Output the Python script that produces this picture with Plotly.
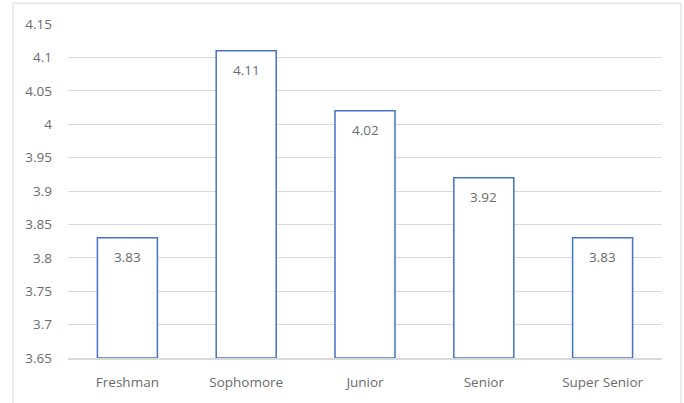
import plotly.graph_objects as go

categories = ["Freshman", "Sophomore", "Junior", "Senior", "Super Senior"]
values = [3.83, 4.11, 4.02, 3.92, 3.83]
tick_vals = [3.65, 3.7, 3.75, 3.8, 3.85, 3.9, 3.95, 4.0, 4.05, 4.1, 4.15]
tick_text = ["3.65", "3.7", "3.75", "3.8", "3.85", "3.9", "3.95", "4", "4.05", "4.1", "4.15"]

base_val = 3.65
FONT = "Open Sans, sans-serif"

fig = go.Figure()
fig.add_trace(go.Bar(
    x=categories,
    y=[v - base_val for v in values],
    base=base_val,
    marker=dict(color="white", line=dict(color="#4472c4", width=1.5)),
    hoverinfo="skip",
))

for c, v in zip(categories, values):
    fig.add_annotation(
        x=c, y=v, text=f"{v:.2f}", showarrow=False,
        yanchor="middle", yshift=-19,
        font=dict(family=FONT, size=13.5, color="#6b6b6b"),
    )

fig.update_layout(
    width=684, height=403,
    margin=dict(l=68, r=22, t=24, b=41),
    paper_bgcolor="white", plot_bgcolor="white",
    bargap=0.495,
    showlegend=False,
    font=dict(family=FONT, color="#595959", size=13),
)
fig.update_yaxes(
    range=[3.65, 4.15],
    tickvals=tick_vals, ticktext=tick_text,
    showgrid=True, gridcolor="#d9d9d9", gridwidth=1,
    zeroline=False, showline=False,
    ticks="", ticklabelstandoff=15,
    tickfont=dict(family=FONT, size=13.5, color="#6b6b6b"),
)
fig.update_xaxes(
    showline=True, linecolor="#d9d9d9", linewidth=1.5,
    ticks="", ticklabelstandoff=11,
    tickfont=dict(family=FONT, size=13.5, color="#6b6b6b"),
    layer="above traces",
)
fig.add_shape(
    type="rect", xref="paper", yref="paper",
    x0=-0.0926, x1=1.032, y0=-0.2, y1=1.062,
    line=dict(color="#d9d9d9", width=1), fillcolor="rgba(0,0,0,0)",
    layer="below",
)
fig.write_html("out.html")
